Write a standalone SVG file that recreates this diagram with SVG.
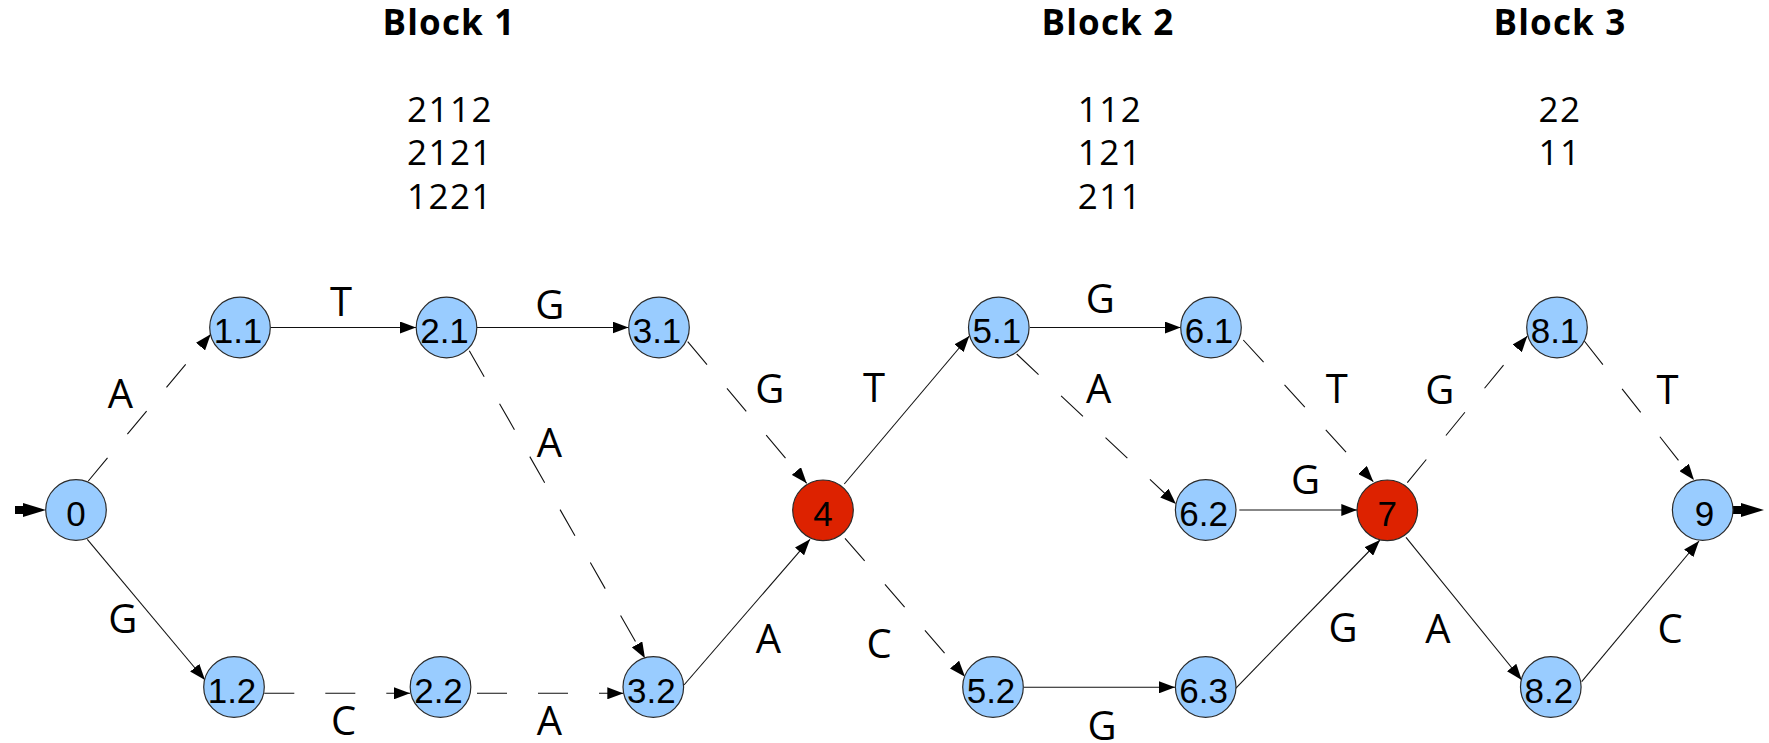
<svg xmlns="http://www.w3.org/2000/svg" width="1769" height="743" viewBox="0 0 1769 743">
  <defs>
    <style>
      .title { font-family: "Open Sans", "Noto Sans", sans-serif; font-weight: bold; font-size: 35px; letter-spacing: 1.2px; fill: #000; text-anchor: middle; }
      .seq { font-family: "Open Sans", "Noto Sans", sans-serif; font-size: 35px; letter-spacing: 1.5px; fill: #000; text-anchor: middle; }
      .lbl { font-family: "Open Sans", "Noto Sans", sans-serif; font-size: 40px; fill: #000; text-anchor: middle; }
      .node circle { stroke: #2a2a2a; stroke-width: 1.2; }
      .node.plain circle { fill: #99ccff; }
      .node.merge circle { fill: #dd2200; }
      .node text { font-family: "Liberation Sans", Arial, sans-serif; font-size: 35px; fill: #000; text-anchor: middle; }
      .edge { stroke: #111; stroke-width: 1.1; fill: none; marker-end: url(#arrow); }
      .dash { stroke-dasharray: 30 31; }
      .io { fill: #000; }
    </style>
    <marker id="arrow" markerUnits="userSpaceOnUse" markerWidth="16" markerHeight="12" refX="16" refY="6" orient="auto">
      <path d="M0,0 L16,6 L0,12 Z" fill="#000"/>
    </marker>
  </defs>

  <rect width="1769" height="743" fill="#fff"/>

  <!-- block headings and sequences -->
  <g id="headings">
    <text class="title" x="449" y="35">Block 1</text>
    <text class="seq" x="450" y="121.5">2112</text>
    <text class="seq" x="450" y="165">2121</text>
    <text class="seq" x="450" y="208.5">1221</text>

    <text class="title" x="1108" y="35">Block 2</text>
    <text class="seq" x="1110" y="121.5">112</text>
    <text class="seq" x="1110" y="165">121</text>
    <text class="seq" x="1110" y="208.5">211</text>

    <text class="title" x="1560" y="35">Block 3</text>
    <text class="seq" x="1560" y="121.5">22</text>
    <text class="seq" x="1560" y="165">11</text>
  </g>

  <!-- connectors -->
  <g id="connectors">
    <line class="edge dash" x1="88.3" y1="481" x2="210.7" y2="334.3"/>
    <line class="edge" x1="87.3" y1="539.3" x2="205" y2="680"/>
    <line class="edge" x1="270.7" y1="327.5" x2="416" y2="327.5"/>
    <line class="edge" x1="477" y1="327.5" x2="628.5" y2="327.5"/>
    <line class="edge dash" x1="469.3" y1="350.7" x2="645" y2="658.3"/>
    <line class="edge dash" x1="264.3" y1="693.3" x2="410" y2="693.3"/>
    <line class="edge dash" x1="477" y1="693.3" x2="623.3" y2="693.3"/>
    <line class="edge dash" x1="687.7" y1="341.7" x2="806.7" y2="483.3"/>
    <line class="edge" x1="684" y1="685" x2="810" y2="539.3"/>
    <line class="edge" x1="844.3" y1="484" x2="969.3" y2="336"/>
    <line class="edge dash" x1="845" y1="538.3" x2="965" y2="676.7"/>
    <line class="edge" x1="1030" y1="327.5" x2="1180.7" y2="327.5"/>
    <line class="edge dash" x1="1016.7" y1="354" x2="1176" y2="504"/>
    <line class="edge dash" x1="1243.3" y1="340" x2="1373.3" y2="481.7"/>
    <line class="edge" x1="1239.3" y1="510" x2="1357.3" y2="510"/>
    <line class="edge" x1="1024" y1="687.3" x2="1175" y2="687.3"/>
    <line class="edge" x1="1235.7" y1="688.3" x2="1380" y2="540"/>
    <line class="edge dash" x1="1407.3" y1="482.7" x2="1527.3" y2="336"/>
    <line class="edge" x1="1406" y1="537.3" x2="1521.7" y2="680"/>
    <line class="edge dash" x1="1584.3" y1="341" x2="1694" y2="480"/>
    <line class="edge" x1="1581.7" y1="681.7" x2="1699" y2="541"/>

    <!-- entry and exit arrows -->
    <rect class="io" x="15" y="506" width="10" height="8"/>
    <polygon class="io" points="23,503 46,510 23,517"/>
    <rect class="io" x="1733" y="506" width="9" height="8"/>
    <polygon class="io" points="1741,503 1764,510 1741,517"/>
  </g>

  <!-- edge labels -->
  <g id="edge-labels">
    <text class="lbl" x="120.5" y="408">A</text>
    <text class="lbl" x="341" y="316">T</text>
    <text class="lbl" x="549.7" y="319">G</text>
    <text class="lbl" x="549.5" y="456.7">A</text>
    <text class="lbl" x="122.7" y="632.7">G</text>
    <text class="lbl" x="343.5" y="735">C</text>
    <text class="lbl" x="549.5" y="735">A</text>
    <text class="lbl" x="769.7" y="403">G</text>
    <text class="lbl" x="768.3" y="653">A</text>
    <text class="lbl" x="874" y="401.7">T</text>
    <text class="lbl" x="879" y="658.3">C</text>
    <text class="lbl" x="1100.3" y="312.7">G</text>
    <text class="lbl" x="1098.7" y="403">A</text>
    <text class="lbl" x="1336.7" y="402.7">T</text>
    <text class="lbl" x="1305.5" y="494.3">G</text>
    <text class="lbl" x="1102" y="739.5">G</text>
    <text class="lbl" x="1343" y="641.7">G</text>
    <text class="lbl" x="1439.7" y="404">G</text>
    <text class="lbl" x="1438" y="642.7">A</text>
    <text class="lbl" x="1667.5" y="404">T</text>
    <text class="lbl" x="1670" y="642.7">C</text>
  </g>

  <!-- states -->
  <g id="n0" class="node plain"><circle cx="76" cy="510" r="30.3"/><text x="76" y="525.5">0</text></g>
  <g id="n1-1" class="node plain"><circle cx="240" cy="327.5" r="30.3"/><text x="238" y="343">1.1</text></g>
  <g id="n1-2" class="node plain"><circle cx="234" cy="687" r="30.3"/><text x="232" y="702.5">1.2</text></g>
  <g id="n2-1" class="node plain"><circle cx="446.5" cy="327.5" r="30.3"/><text x="444.5" y="343">2.1</text></g>
  <g id="n2-2" class="node plain"><circle cx="440.5" cy="687" r="30.3"/><text x="438.5" y="702.5">2.2</text></g>
  <g id="n3-1" class="node plain"><circle cx="659" cy="327.5" r="30.3"/><text x="657" y="343">3.1</text></g>
  <g id="n3-2" class="node plain"><circle cx="653.3" cy="687" r="30.3"/><text x="651.3" y="702.5">3.2</text></g>
  <g id="n4" class="node merge"><circle cx="823" cy="510.3" r="30.3"/><text x="823" y="525.5">4</text></g>
  <g id="n5-1" class="node plain"><circle cx="998.8" cy="327.5" r="30.3"/><text x="996.8" y="343">5.1</text></g>
  <g id="n5-2" class="node plain"><circle cx="993" cy="687" r="30.3"/><text x="991" y="702.5">5.2</text></g>
  <g id="n6-1" class="node plain"><circle cx="1211" cy="327.5" r="30.3"/><text x="1209" y="343">6.1</text></g>
  <g id="n6-2" class="node plain"><circle cx="1205.7" cy="510" r="30.3"/><text x="1203.7" y="525.5">6.2</text></g>
  <g id="n6-3" class="node plain"><circle cx="1205.7" cy="687" r="30.3"/><text x="1203.7" y="702.5">6.3</text></g>
  <g id="n7" class="node merge"><circle cx="1387.3" cy="510.3" r="30.3"/><text x="1387.3" y="525.5">7</text></g>
  <g id="n8-1" class="node plain"><circle cx="1557" cy="327.5" r="30.3"/><text x="1555" y="343">8.1</text></g>
  <g id="n8-2" class="node plain"><circle cx="1550.8" cy="687" r="30.3"/><text x="1548.8" y="702.5">8.2</text></g>
  <g id="n9" class="node plain"><circle cx="1702.7" cy="510" r="30.3"/><text x="1704.5" y="525.5">9</text></g>
</svg>
